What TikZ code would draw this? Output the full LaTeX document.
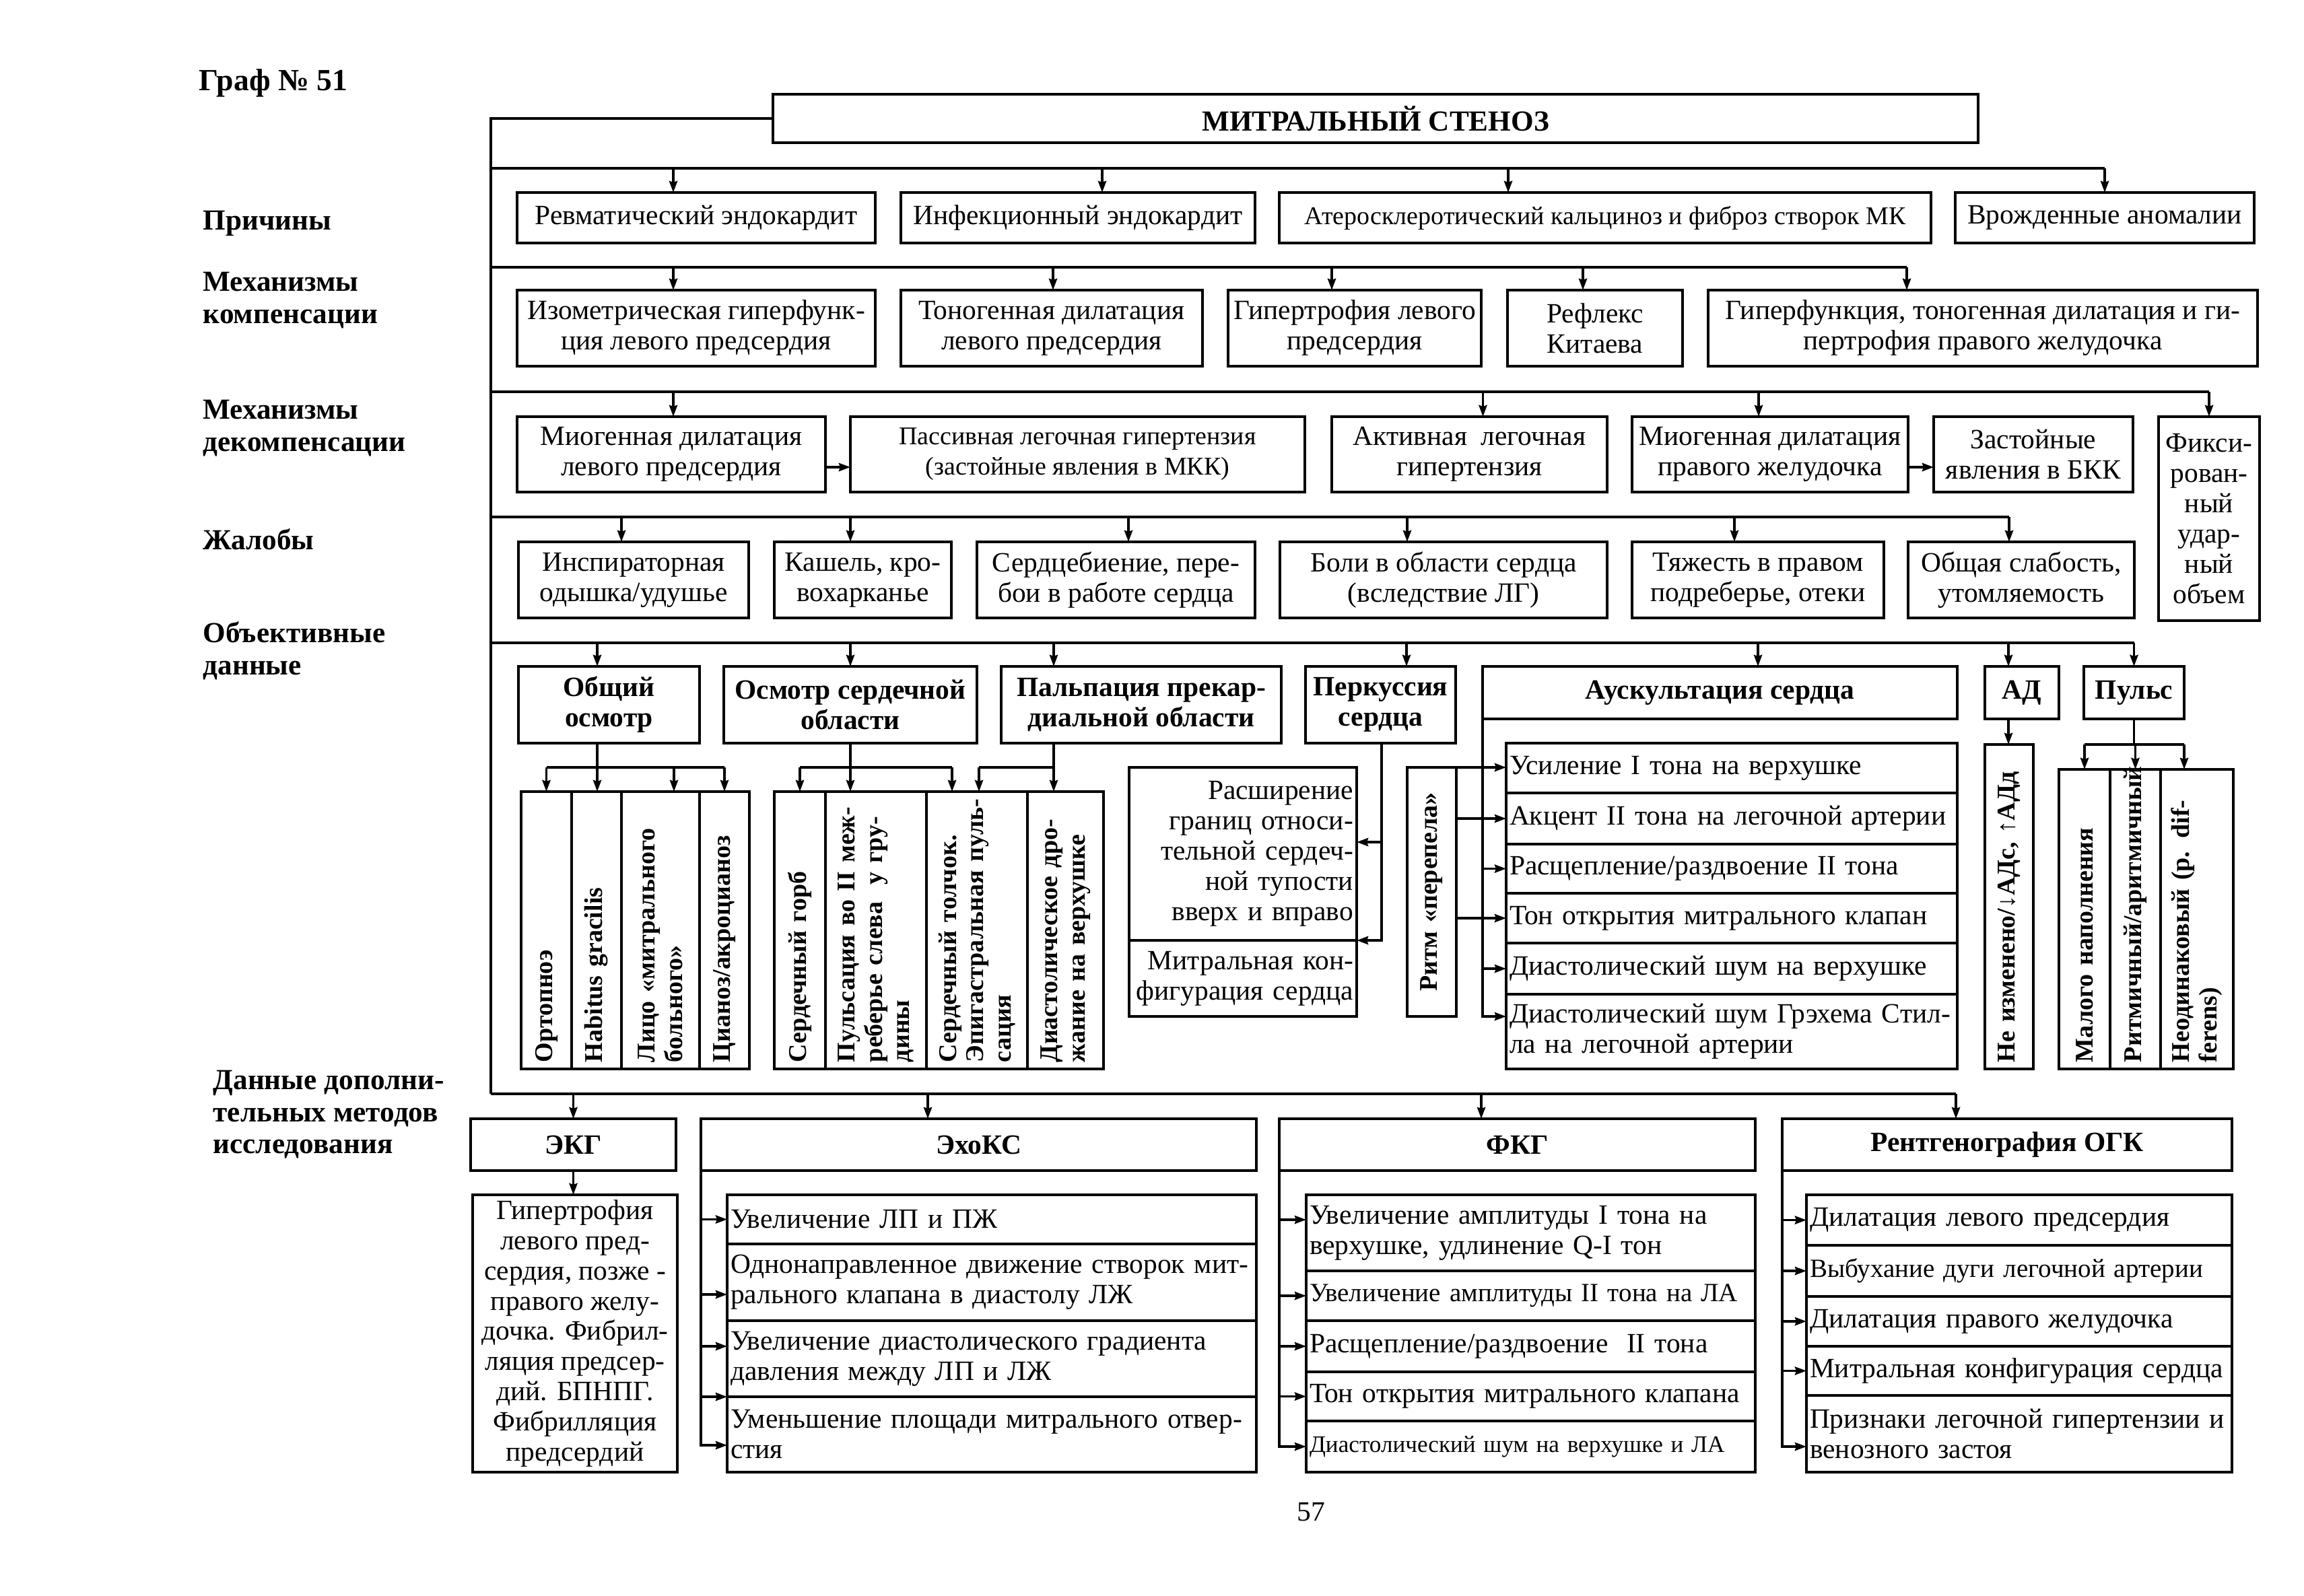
\documentclass[tikz,border=0pt]{standalone}
\usepackage{fontspec}
\setmainfont{Liberation Serif}
\usetikzlibrary{arrows.meta}
\newcommand\txtfont{\fontsize{11.8}{12.8}\selectfont}
\newcommand\smfont{\fontsize{10.8}{12.8}\selectfont}
\newcommand\nrfont{\fontsize{11.1}{12.8}\selectfont}
\newcommand\tnfont{\fontsize{10}{12}\selectfont}
\newcommand\hdfont{\bfseries\fontsize{11.8}{12.8}\selectfont}
\newcommand\colfont{\bfseries\fontsize{10.8}{11.6}\selectfont}

\begin{document}
\begin{tikzpicture}[x=1mm,y=-1mm,font=\txtfont]
	\def\tap#1#2#3{\draw[arrow] ([xshift=#2mm]#1.north |- #3) -- ([xshift=#2mm]#1.north);}
	\def\down#1#2#3{\draw[arrow] ([xshift=#2mm]#1.east |- #3) -- ([xshift=#2mm]#1.east);}

	\tikzset{line/.style={draw,line width=1.1pt}}
	\tikzset{arrow/.style={line,->,>={Stealth[length=1.7mm,width=1.2mm,inset=0.2mm]}}}
	\tikzset{blk/.style 2 args={draw,line width=1.2pt,inner sep=0pt,outer sep=0pt,anchor=north west,align=center,minimum width=#1mm,minimum height=#2mm}}
	\tikzset{itm/.code 2 args={\pgfmathsetlengthmacro\rowtw{#1mm-1mm}\pgfkeysalso{blk={#1}{#2},align=left,inner xsep=0.5mm,text width/.expanded=\rowtw}}}
	\tikzset{vcol/.code 2 args={\pgfmathsetlengthmacro\coltw{#2mm-2mm}\pgfkeysalso{draw,line width=1.2pt,inner sep=0pt,inner xsep=1mm,outer sep=0pt,rotate=90,anchor=north east,align=left,minimum width=#2mm,minimum height=#1mm,text width/.expanded=\coltw,font=\colfont}}}
	\tikzset{hd/.style={font=\hdfont}}
	\tikzset{sidelabel/.style={anchor=west,align=left,inner xsep=0pt,font=\bfseries\fontsize{12.3}{13.5}\selectfont}}

	\useasboundingbox (0,0) rectangle (342.2,237.1);

	% headings on the left
	\node[anchor=west,inner xsep=0pt,font=\bfseries\fontsize{13}{14}\selectfont] (graf) at (29.5,12.4) {Граф № 51};
	\node[sidelabel] (l1) at (30.1,33.2) {Причины};
	\node[sidelabel] (l2) at (30.1,44.6) {Механизмы\\компенсации};
	\node[sidelabel] (l3) at (30.1,63.6) {Механизмы\\декомпенсации};
	\node[sidelabel] (l4) at (30.1,80.1) {Жалобы};
	\node[sidelabel] (l5) at (30.1,96.7) {Объективные\\данные};
	\node[sidelabel] (l6) at (31.6,165.6) {Данные дополни-\\тельных методов\\исследования};

	\node[blk={179.0}{7.2},font=\bfseries\fontsize{12.3}{13}\selectfont] (title) at (114.8,14.0) {МИТРАЛЬНЫЙ СТЕНОЗ};

	% causes
	\node[blk={53.2}{7.5}] (c1) at (76.8,28.6) {Ревматический эндокардит};
	\node[blk={52.6}{7.5}] (c2) at (133.8,28.6) {Инфекционный эндокардит};
	\node[blk={96.8}{7.5},font=\smfont] (c3) at (190.0,28.6) {Атеросклеротический кальциноз и фиброз створок МК};
	\node[blk={44.4}{7.5}] (c4) at (290.4,28.6) {Врожденные аномалии};

	% compensation
	\node[blk={53.2}{11.3}] (k1) at (76.8,43.1) {Изометрическая гиперфунк-\\ция левого предсердия};
	\node[blk={44.8}{11.3}] (k2) at (133.8,43.1) {Тоногенная дилатация\\левого предсердия};
	\node[blk={37.6}{11.3}] (k3) at (182.4,43.1) {Гипертрофия левого\\предсердия};
	\node[blk={26.0}{11.3}] (k4) at (223.9,43.1) {Рефлекс\\Китаева};
	\node[blk={81.6}{11.3}] (k5) at (253.7,43.1) {Гиперфункция, тоногенная дилатация и ги-\\пертрофия правого желудочка};

	% decompensation
	\node[blk={45.8}{11.2}] (d1) at (76.8,61.9) {Миогенная дилатация\\левого предсердия};
	\node[blk={67.5}{11.2},font=\smfont] (d2) at (126.3,61.9) {Пассивная легочная гипертензия\\(застойные явления в МКК)};
	\node[blk={40.9}{11.2}] (d3) at (197.8,61.9) {Активная\ \ легочная\\гипертензия};
	\node[blk={41.0}{11.2}] (d4) at (242.4,61.9) {Миогенная дилатация\\правого желудочка};
	\node[blk={29.6}{11.2}] (d5) at (287.2,61.9) {Застойные\\явления в БКК};
	\node[blk={15.0}{30.3}] (d6) at (320.6,61.9) {Фикси-\\рован-\\ный\\удар-\\ный\\объем};

	% complaints
	\node[blk={34.2}{11.3}] (j1) at (77.0,80.5) {Инспираторная\\одышка/удушье};
	\node[blk={26.3}{11.3}] (j2) at (115.0,80.5) {Кашель, кро-\\вохарканье};
	\node[blk={41.3}{11.3}] (j3) at (145.1,80.5) {Сердцебиение, пере-\\бои в работе сердца};
	\node[blk={48.6}{11.3}] (j4) at (190.1,80.5) {Боли в области сердца\\(вследствие ЛГ)};
	\node[blk={37.4}{11.3}] (j5) at (242.4,80.5) {Тяжесть в правом\\подреберье, отеки};
	\node[blk={33.6}{11.3}] (j6) at (283.4,80.5) {Общая слабость,\\утомляемость};

	% objective data
	\node[blk={26.9}{11.4},hd] (o1) at (77.0,99.0) {Общий\\осмотр};
	\node[blk={37.6}{11.4},hd] (o2) at (107.5,99.0) {Осмотр сердечной\\области};
	\node[blk={41.6}{11.4},hd] (o3) at (148.7,99.0) {Пальпация прекар-\\диальной области};
	\node[blk={22.3}{11.4},hd] (o4) at (193.9,99.0) {Перкуссия\\сердца};
	\node[blk={70.5}{7.8},hd] (o5) at (220.2,99.0) {Аускультация сердца};
	\node[blk={11.0}{7.8},hd] (o6) at (294.8,99.0) {АД};
	\node[blk={14.9}{7.8},hd] (o7) at (309.5,99.0) {Пульс};

	\node[vcol={7.5}{41.2}] (g1) at (77.4,117.6) {Ортопноэ};
	\node[vcol={7.4}{41.2}] (g2) at (84.9,117.6) {Habitus gracilis};
	\node[vcol={11.6}{41.2}] (g3) at (92.3,117.6) {Лицо «митрального\\больного»};
	\node[vcol={7.4}{41.2}] (g4) at (103.9,117.6) {Цианоз/акроцианоз};
	\node[vcol={7.6}{41.2}] (h1) at (115.0,117.6) {Сердечный горб};
	\node[vcol={15.0}{41.2}] (h2) at (122.6,117.6) {Пульсация во II меж-\\реберье слева\ \ у гру-\\дины};
	\node[vcol={15.0}{41.2}] (h3) at (137.6,117.6) {Сердечный толчок.\\Эпигастральная пуль-\\сация};
	\node[vcol={11.3}{41.2}] (h4) at (152.6,117.6) {Диастолическое дро-\\жание на верхушке};

	\node[itm={33.8}{25.7},align=right] (r1) at (167.7,114.0) {Расширение\\границ относи-\\тельной сердеч-\\ной тупости\\вверх и вправо};
	\node[itm={33.8}{11.3},align=right] (r2) at (167.7,139.7) {Митральная кон-\\фигурация сердца};
	\node[vcol={7.3}{37.0},align=center] (ritm) at (209.0,114.0) {Ритм «перепела»};

	\node[itm={67.0}{7.4}] (a1) at (223.7,110.4) {Усиление I тона на верхушке};
	\node[itm={67.0}{7.6}] (a2) at (223.7,117.8) {Акцент II тона на легочной артерии};
	\node[itm={67.0}{7.3}] (a3) at (223.7,125.4) {Расщепление/раздвоение II тона};
	\node[itm={67.0}{7.4}] (a4) at (223.7,132.7) {Тон открытия митрального клапан};
	\node[itm={67.0}{7.6}] (a5) at (223.7,140.1) {Диастолический шум на верхушке};
	\node[itm={67.0}{11.1}] (a6) at (223.7,147.7) {Диастолический шум Грэхема Стил-\\ла на легочной артерии};

	\node[vcol={7.2}{48.2}] (adv) at (294.8,110.6) {Не изменено/↓АДс, ↑АДд};
	\node[vcol={7.6}{44.5}] (p1) at (305.8,114.3) {Малого наполнения};
	\node[vcol={7.5}{44.5}] (p2) at (313.4,114.3) {Ритмичный/аритмичный};
	\node[vcol={10.8}{44.5}] (p3) at (320.9,114.3) {Неодинаковый (p. dif-\\ferens)};

	% additional methods
	\node[blk={30.5}{7.7},hd] (e1) at (69.9,166.2) {ЭКГ};
	\node[blk={82.5}{7.7},hd] (e2) at (104.1,166.2) {ЭхоКС};
	\node[blk={70.7}{7.7},hd] (e3) at (190.0,166.2) {ФКГ};
	\node[blk={66.8}{7.7},hd] (e4) at (264.7,166.2) {Рентгенография ОГК};

	\node[blk={30.4}{41.2}] (ekg) at (70.2,177.5) {Гипертрофия\\левого пред-\\сердия, позже -\\правого желу-\\дочка. Фибрил-\\ляция предсер-\\дий. БПНПГ.\\Фибрилляция\\предсердий};

	\node[itm={78.6}{7.3}] (x1) at (108.0,177.5) {Увеличение ЛП и ПЖ};
	\node[itm={78.6}{11.4}] (x2) at (108.0,184.8) {Однонаправленное движение створок мит-\\рального клапана в диастолу ЛЖ};
	\node[itm={78.6}{11.3}] (x3) at (108.0,196.2) {Увеличение диастолического градиента\\давления между ЛП и ЛЖ};
	\node[itm={78.6}{11.2}] (x4) at (108.0,207.5) {Уменьшение площади митрального отвер-\\стия};

	\node[itm={66.7}{11.3}] (f1) at (194.0,177.5) {Увеличение амплитуды I тона на\\верхушке, удлинение Q-I тон};
	\node[itm={66.7}{7.4},font=\nrfont] (f2) at (194.0,188.8) {Увеличение амплитуды II тона на ЛА};
	\node[itm={66.7}{7.6}] (f3) at (194.0,196.2) {Расщепление/раздвоение\ \ II тона};
	\node[itm={66.7}{7.3}] (f4) at (194.0,203.8) {Тон открытия митрального клапана};
	\node[itm={66.7}{7.6},font=\tnfont] (f5) at (194.0,211.1) {Диастолический шум на верхушке и ЛА};

	\node[itm={63.2}{7.5}] (n1) at (268.3,177.5) {Дилатация левого предсердия};
	\node[itm={63.2}{7.6},font=\nrfont] (n2) at (268.3,185.0) {Выбухание дуги легочной артерии};
	\node[itm={63.2}{7.4}] (n3) at (268.3,192.6) {Дилатация правого желудочка};
	\node[itm={63.2}{7.3}] (n4) at (268.3,200.0) {Митральная конфигурация сердца};
	\node[itm={63.2}{11.4}] (n5) at (268.3,207.3) {Признаки легочной гипертензии и\\венозного застоя};

	\node (page) at (194.7,224.6) {57};

	% trunk and buses
	\coordinate (b1) at (72.9,25.0);
	\coordinate (b2) at (72.9,39.7);
	\coordinate (b3) at (72.9,58.2);
	\coordinate (b4) at (72.9,76.8);
	\coordinate (b5) at (72.9,95.5);
	\coordinate (b6) at (72.9,162.5);
	\coordinate (sb) at (72.9,114.0);

	\draw[line] (title.west) -| (b6);
	\draw[line] (b1) -- (c4.north |- b1);
	\draw[line] (b2) -- ([xshift=-11.3mm]k5.north |- b2);
	\draw[line] (b3) -- (d6.north |- b3);
	\draw[line] (b4) -- ([xshift=-1.8mm]j6.north |- b4);
	\draw[line] (b5) -- (o7.north |- b5);
	\draw[line] (b6) -- ([xshift=-7.6mm]e4.north |- b6);

	\tap{c1}{-3.4}{b1} \tap{c2}{3.6}{b1} \tap{c3}{-14.4}{b1} \tap{c4}{0}{b1}
	\tap{k1}{-3.4}{b2} \tap{k2}{0.2}{b2} \tap{k3}{-3.4}{b2} \tap{k4}{-1.8}{b2} \tap{k5}{-11.3}{b2}
	\tap{d1}{0.3}{b3} \tap{d3}{2}{b3} \tap{d4}{-1.7}{b3} \tap{d6}{0}{b3}
	\tap{j1}{-1.8}{b4} \tap{j2}{-1.85}{b4} \tap{j3}{1.85}{b4} \tap{j4}{-5.4}{b4} \tap{j5}{-3.5}{b4} \tap{j6}{-1.8}{b4}
	\tap{o1}{-1.75}{b5} \tap{o2}{0}{b5} \tap{o3}{-13}{b5} \tap{o4}{3.85}{b5} \tap{o5}{5.65}{b5} \tap{o6}{-2}{b5} \tap{o7}{0}{b5}
	\tap{e1}{0}{b6} \tap{e2}{-7.55}{b6} \tap{e3}{-5.35}{b6} \tap{e4}{-7.6}{b6}

	\draw[arrow] ([yshift=-1.9mm]d1.east) -- ([yshift=-1.9mm]d2.west);
	\draw[arrow] ([yshift=-1.9mm]d4.east) -- ([yshift=-1.9mm]d5.west);

	% general examination
	\draw[arrow] ([xshift=-1.75mm]o1.south) -- ([xshift=-1.75mm]o1.south |- g2.east);
	\draw[line] (g1.east |- sb) -- (g4.east |- sb);
	\down{g1}{0}{sb} \down{g3}{2}{sb} \down{g4}{0}{sb}

	% inspection and palpation
	\draw[arrow] (o2.south) -- (o2.south |- h2.east);
	\draw[line] (h1.east |- sb) -- ([xshift=-3.7mm]h3.east |- sb);
	\down{h1}{0}{sb} \down{h3}{-3.7}{sb}
	\draw[arrow] ([xshift=-13mm]o3.south) -- ([xshift=-13mm]o3.south |- h4.east);
	\draw[line] ([xshift=0.3mm]h3.east |- sb) -- ([xshift=-13mm]o3.south |- sb);
	\down{h3}{0.3}{sb}

	% percussion
	\draw[arrow] ([xshift=0.15mm]o4.south) |- (r1.south east);
	\draw[arrow] ([xshift=0.15mm,yshift=1.75mm]o4.south |- r1.east) -- ([yshift=1.75mm]r1.east);

	% auscultation
	\draw[arrow] (o5.south west) |- ([yshift=2.25mm]a6.west);
	\draw[arrow] (o5.south west |- a3.west) -- (a3.west);
	\draw[arrow] (o5.south west |- a5.west) -- (a5.west);
	\draw[arrow] (ritm.east) -- (ritm.east -| a1.west);
	\draw[arrow] (ritm.south |- a2.west) -- (a2.west);
	\draw[arrow] (ritm.south |- a4.west) -- (a4.west);

	% blood pressure and pulse
	\draw[arrow] ([xshift=-2mm]o6.south) -- ([xshift=-2mm]o6.south |- adv.east);
	\draw[line] (o7.south) -- (o7.south |- adv.east);
	\draw[line] (p1.east |- adv.east) -- ([xshift=-1.9mm]p3.east |- adv.east);
	\down{p1}{0}{adv.east} \down{p2}{0}{adv.east} \down{p3}{-1.9}{adv.east}

	% ECG
	\draw[arrow] (e1.south) -- (e1.south |- ekg.north);

	% echo
	\draw[arrow] (e2.south west) |- ([yshift=-1.6mm]x4.west);
	\draw[arrow] (e2.south west |- x1.west) -- (x1.west);
	\draw[arrow] ([yshift=-1.8mm]x2.west -| e2.south west) -- ([yshift=-1.8mm]x2.west);
	\draw[arrow] ([yshift=1.85mm]x3.west -| e2.south west) -- ([yshift=1.85mm]x3.west);
	\draw[arrow] (e2.south west |- x3.south west) -- (x3.south west);

	% phonocardiography
	\draw[arrow] (e3.south west) |- (f5.west);
	\draw[arrow] ([yshift=1.95mm]f1.west -| e3.south west) -- ([yshift=1.95mm]f1.west);
	\draw[arrow] (e3.south west |- f2.west) -- (f2.west);
	\draw[arrow] (e3.south west |- f3.west) -- (f3.west);
	\draw[arrow] (e3.south west |- f4.west) -- (f4.west);

	% x-ray
	\draw[arrow] (e4.south west) |- ([yshift=-1.9mm]n5.west);
	\draw[arrow] (e4.south west |- n1.west) -- (n1.west);
	\draw[arrow] (e4.south west |- n2.west) -- (n2.west);
	\draw[arrow] (e4.south west |- n3.west) -- (n3.west);
	\draw[arrow] (e4.south west |- n4.west) -- (n4.west);
\end{tikzpicture}
\end{document}
